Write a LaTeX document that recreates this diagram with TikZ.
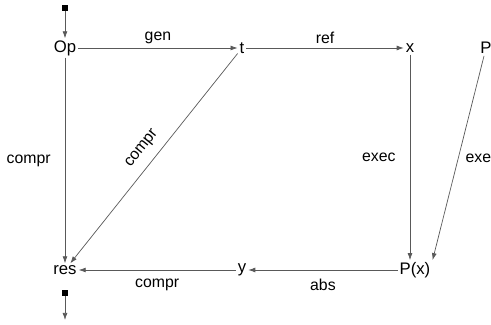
\documentclass[tikz,border=0pt]{standalone}
\usepackage{fontspec}
\setmainfont{Liberation Sans}
\usetikzlibrary{arrows.meta}

\begin{document}
\begin{tikzpicture}[
    obj/.style={inner sep=1pt, font=\fontsize{9.5}{11}\selectfont},
    lbl/.style={font=\fontsize{9}{11}\selectfont, inner sep=2pt},
    arrow/.style={-{Latex[length=4pt,width=2.8pt]}, draw=black!65, line width=0.4pt},
    mark box/.style={fill=black, minimum size=3pt, inner sep=0pt},
]

% frame of the picture
\clip (0,0) rectangle (9.82,6.5);
\useasboundingbox (0,0) rectangle (9.82,6.5);

% objects
\node[obj] (op)  at (1.30, 5.54) {Op};
\node[obj] (t)   at (4.84, 5.54) {t};
\node[obj] (x)   at (8.20, 5.54) {x};
\node[obj] (p)   at (9.72, 5.54) {P};

\node[obj] (res) at (1.30, 1.10) {res};
\node[obj] (y)   at (4.84, 1.10) {y};
\node[obj] (px)  at (8.30, 1.10) {P(x)};

% entry and exit
\node[mark box] (in)  at (1.30, 6.34) {};
\node[mark box] (out) at (1.30, 0.64) {};
\coordinate (end) at (1.30, 0.10);

% connectors
\draw[arrow] (in) -- (op);
\draw[arrow] (op) -- node[lbl, above] {gen} (t);
\draw[arrow] (t) -- node[lbl, above] {ref} (x);
\draw[arrow] (op) -- node[lbl, left=6pt] {compr} (res);
\draw[arrow] (t) -- node[lbl, sloped, above=3pt, pos=0.5] {compr} (res);
\draw[arrow] (x) -- node[lbl, left=6pt] {exec} (x |- px.north);
\draw[arrow] (p) -- node[lbl, right=2pt] {exec} ([xshift=10pt]px.north);
\draw[arrow] (px) -- node[lbl, below=3pt] {abs} (y);
\draw[arrow] (y) -- node[lbl, below=3pt] {compr} (res);
\draw[arrow] (out) -- (end);

\end{tikzpicture}
\end{document}
